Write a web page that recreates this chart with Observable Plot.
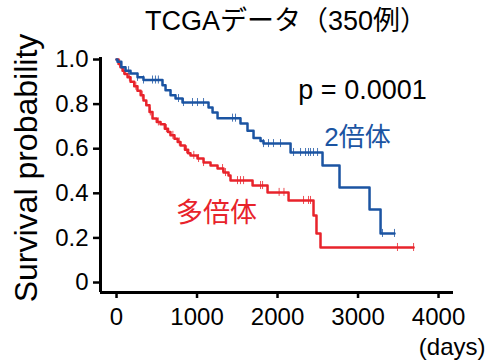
<!DOCTYPE html>
<html>
<head>
<meta charset="utf-8">
<script src="https://cdn.jsdelivr.net/npm/d3@7"></script>
<script src="https://cdn.jsdelivr.net/npm/@observablehq/plot@0.6"></script>
<style>
  html, body { margin: 0; padding: 0; background: #fff; }
  svg { display: block; }
</style>
</head>
<body>
<div id="chart"></div>
<script>
// ---- data ----
const title = "TCGAデータ（350例）";
const yLabel = "Survival probability";
const xUnit = "(days)";
const pText = "p = 0.0001";
const groupNames = ["2倍体", "多倍体"];
const xTicks = [0, 1000, 2000, 3000, 4000];
const yTicks = [0, 0.2, 0.4, 0.6, 0.8, 1.0];

const blueT = [0, 12, 60, 112, 174, 261, 335, 571, 609, 671, 733, 820, 1143, 1193, 1255, 1540, 1627, 1702, 1789, 1826, 2162, 2559, 2770, 3143, 3280, 3453];
const blueS = [1.0, 0.99, 0.965, 0.95, 0.937, 0.92, 0.908, 0.885, 0.862, 0.84, 0.825, 0.807, 0.785, 0.762, 0.737, 0.713, 0.68, 0.648, 0.635, 0.623, 0.583, 0.525, 0.426, 0.327, 0.22, 0.22];
const blueCensor = [150, 261, 335, 447, 484, 520, 770, 832, 944, 1006, 1081, 1441, 1478, 1826, 1888, 1950, 2037, 2199, 2286, 2348, 2385, 2410, 2447, 2497, 3304, 3453];

const redT = [0, 25, 50, 75, 100, 137, 174, 220, 260, 300, 335, 370, 410, 447, 500, 547, 600, 640, 670, 720, 760, 795, 850, 890, 919, 1006, 1081, 1168, 1255, 1329, 1391, 1416, 1690, 1876, 2137, 2447, 2484, 2534, 3690];
const redS = [1.0, 0.98, 0.965, 0.95, 0.935, 0.92, 0.90, 0.88, 0.86, 0.84, 0.816, 0.795, 0.765, 0.735, 0.72, 0.71, 0.69, 0.675, 0.66, 0.645, 0.63, 0.614, 0.595, 0.58, 0.57, 0.556, 0.538, 0.525, 0.511, 0.493, 0.48, 0.457, 0.435, 0.404, 0.368, 0.30, 0.22, 0.157, 0.157];
const redCensor = [40, 90, 160, 240, 320, 420, 520, 620, 700, 780, 870, 960, 1019, 1081, 1317, 1354, 1503, 1540, 1578, 1789, 1814, 2020, 2080, 2323, 2385, 2410, 3490, 3690];

// annotation anchors (data coordinates)
const pPos = [3056, 0.861];
const bluePos = [2994, 0.65];
const redPos = [1242, 0.309];

const blue = "#1b54a2";
const red = "#e8232b";
const font = "'Liberation Sans', Arial, 'Noto Sans CJK JP', sans-serif";

// ---- build ----
const toSeries = (T, S) => T.map((t, i) => ({t, s: S[i]}));
const stepAt = (T, S, t) => { let v = S[0]; for (let i = 0; i < T.length; i++) if (T[i] <= t) v = S[i]; return v; };
const blueData = toSeries(blueT, blueS);
const redData = toSeries(redT, redS);
const blueCens = blueCensor.map(t => ({t, s: stepAt(blueT, blueS, t)}));
const redCens = redCensor.map(t => ({t, s: stepAt(redT, redS, t)}));

const xDomain = [-199, 4186];
const yDomain = [-0.0448, 1.009];
const tickHalf = 0.018;

const plot = Plot.plot({
  width: 487,
  height: 360,
  marginLeft: 100,
  marginRight: 34,
  marginTop: 57,
  marginBottom: 68,
  style: {fontFamily: font, background: "#fff", color: "#000"},
  x: {domain: xDomain, label: null},
  y: {domain: yDomain, label: null},
  marks: [
    Plot.axisX({ticks: xTicks, tickSize: 6, tickPadding: 9, strokeWidth: 2.5, fontSize: 24, label: null, tickFormat: d => String(d)}),
    Plot.axisY({ticks: yTicks, tickSize: 7, tickPadding: 5, strokeWidth: 2.5, fontSize: 24, label: null, tickFormat: d => d === 0 ? "0" : d.toFixed(1)}),
    Plot.ruleX([xDomain[0]], {stroke: "#000", strokeWidth: 3}),
    Plot.ruleY([yDomain[0]], {stroke: "#000", strokeWidth: 3}),
    Plot.line(redData, {x: "t", y: "s", curve: "step-after", stroke: red, strokeWidth: 2.5}),
    Plot.ruleX(redCens, {x: "t", y1: d => d.s - tickHalf, y2: d => d.s + tickHalf, stroke: red, strokeWidth: 1, strokeOpacity: 0.8}),
    Plot.line(blueData, {x: "t", y: "s", curve: "step-after", stroke: blue, strokeWidth: 2.5}),
    Plot.ruleX(blueCens, {x: "t", y1: d => d.s - tickHalf, y2: d => d.s + tickHalf, stroke: blue, strokeWidth: 1, strokeOpacity: 0.8}),
    Plot.text([pText], {x: pPos[0], y: pPos[1], text: d => d, fontSize: 27, fill: "#000"}),
    Plot.text([groupNames[0]], {x: bluePos[0], y: bluePos[1], text: d => d, fontSize: 26, fill: blue}),
    Plot.text([groupNames[1]], {x: redPos[0], y: redPos[1], text: d => d, fontSize: 27, fill: red}),
    Plot.text([title], {frameAnchor: "top", text: d => d, lineAnchor: "middle", dx: 9, dy: -36, fontSize: 27, fill: "#000"}),
    Plot.text([yLabel], {frameAnchor: "left", text: d => d, textAnchor: "middle", lineAnchor: "middle", rotate: -90, dx: -74, dy: -7, fontSize: 32, fill: "#000"}),
    Plot.text([xUnit], {frameAnchor: "bottom-right", text: d => d, textAnchor: "end", lineAnchor: "middle", dx: 32, dy: 55, fontSize: 24, fill: "#000"})
  ]
});
document.getElementById("chart").appendChild(plot);
</script>
</body>
</html>
